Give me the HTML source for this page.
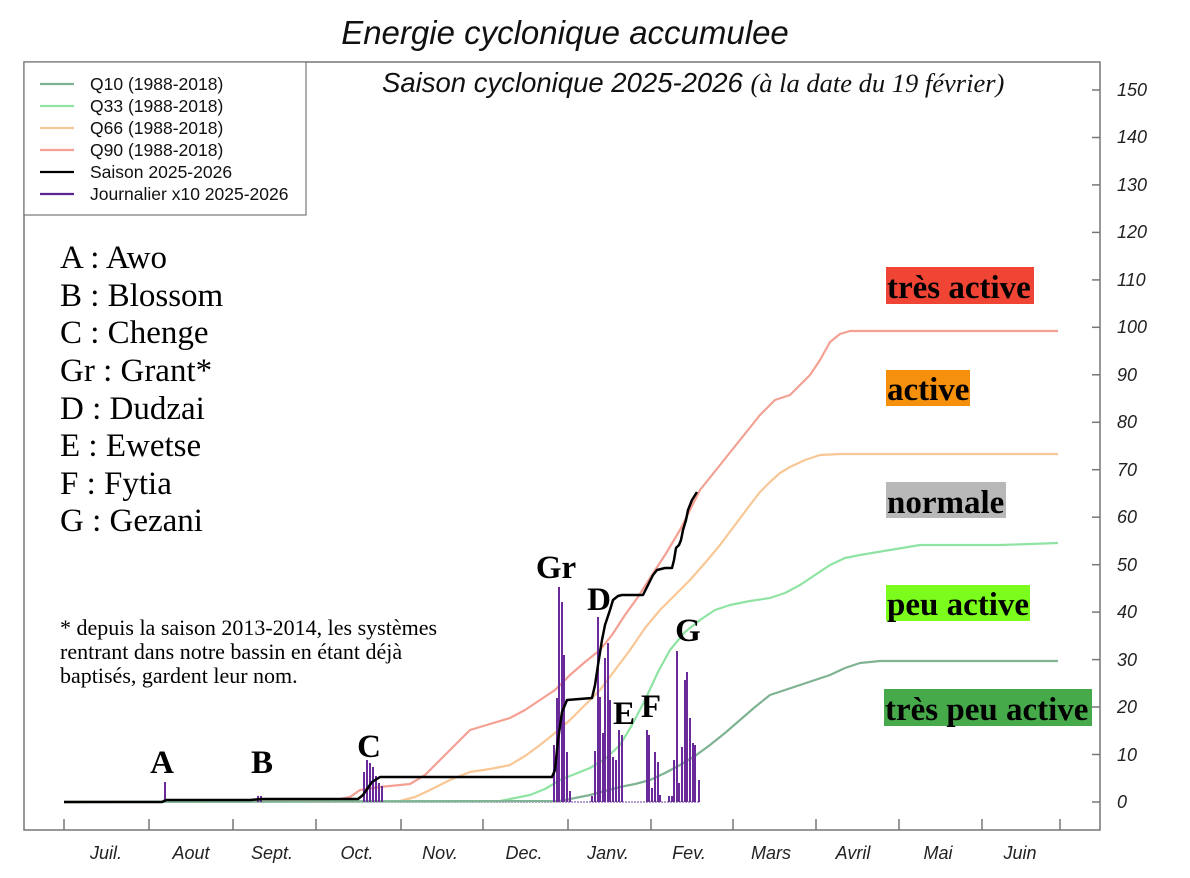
<!DOCTYPE html>
<html><head><meta charset="utf-8"><style>
body{margin:0;background:#fff}
svg{display:block}
.ax{font-family:"Liberation Sans",sans-serif;font-style:italic;font-size:18px;fill:#222}
.lg{font-family:"Liberation Sans",sans-serif;font-size:17.5px;fill:#111}
.sv{font-family:"Liberation Serif",serif}
</style></head><body>
<svg width="1190" height="878" viewBox="0 0 1190 878">
<rect width="1190" height="878" fill="#fff"/>
<text x="565" y="44" text-anchor="middle" font-family="Liberation Sans,sans-serif" font-style="italic" font-size="33" fill="#111">Energie cyclonique accumulee</text>
<text x="382" y="92" font-family="Liberation Sans,sans-serif" font-style="italic" font-size="27.5" fill="#111">Saison cyclonique 2025-2026 <tspan class="sv" font-size="26.5">(à la date du 19 février)</tspan></text>
<path d="M24,62 H1100 V830 H24 Z" fill="none" stroke="#777" stroke-width="1.5"/>
<g stroke="#777" stroke-width="1.5">
<line x1="1092" y1="802" x2="1100" y2="802"/><line x1="1092" y1="754.5" x2="1100" y2="754.5"/><line x1="1092" y1="707" x2="1100" y2="707"/><line x1="1092" y1="659.6" x2="1100" y2="659.6"/><line x1="1092" y1="612.1" x2="1100" y2="612.1"/><line x1="1092" y1="564.7" x2="1100" y2="564.7"/><line x1="1092" y1="517.2" x2="1100" y2="517.2"/><line x1="1092" y1="469.7" x2="1100" y2="469.7"/><line x1="1092" y1="422.3" x2="1100" y2="422.3"/><line x1="1092" y1="374.8" x2="1100" y2="374.8"/><line x1="1092" y1="327.3" x2="1100" y2="327.3"/><line x1="1092" y1="279.9" x2="1100" y2="279.9"/><line x1="1092" y1="232.4" x2="1100" y2="232.4"/><line x1="1092" y1="184.9" x2="1100" y2="184.9"/><line x1="1092" y1="137.5" x2="1100" y2="137.5"/><line x1="1092" y1="90" x2="1100" y2="90"/>
</g>
<g class="ax">
<text x="1117" y="808">0</text><text x="1117" y="761">10</text><text x="1117" y="713">20</text><text x="1117" y="666">30</text><text x="1117" y="618">40</text><text x="1117" y="571">50</text><text x="1117" y="523">60</text><text x="1117" y="476">70</text><text x="1117" y="428">80</text><text x="1117" y="381">90</text><text x="1117" y="333">100</text><text x="1117" y="286">110</text><text x="1117" y="238">120</text><text x="1117" y="191">130</text><text x="1117" y="143">140</text><text x="1117" y="96">150</text>
</g>
<g stroke="#777" stroke-width="1.5">
<line x1="64" y1="819" x2="64" y2="830"/><line x1="149" y1="819" x2="149" y2="830"/><line x1="233" y1="819" x2="233" y2="830"/><line x1="316" y1="819" x2="316" y2="830"/><line x1="401" y1="819" x2="401" y2="830"/><line x1="483" y1="819" x2="483" y2="830"/><line x1="568" y1="819" x2="568" y2="830"/><line x1="651" y1="819" x2="651" y2="830"/><line x1="733" y1="819" x2="733" y2="830"/><line x1="816" y1="819" x2="816" y2="830"/><line x1="899" y1="819" x2="899" y2="830"/><line x1="982" y1="819" x2="982" y2="830"/><line x1="1060" y1="819" x2="1060" y2="830"/>
</g>
<g class="ax" text-anchor="middle">
<text x="106" y="859">Juil.</text><text x="191" y="859">Aout</text><text x="272" y="859">Sept.</text><text x="357" y="859">Oct.</text><text x="440" y="859">Nov.</text><text x="524" y="859">Dec.</text><text x="608" y="859">Janv.</text><text x="689" y="859">Fev.</text><text x="771" y="859">Mars</text><text x="853" y="859">Avril</text><text x="938" y="859">Mai</text><text x="1020" y="859">Juin</text>
</g>
<line x1="64" y1="802" x2="700" y2="802" stroke="#9a7fc0" stroke-width="1.5" stroke-dasharray="2,1"/>
<g fill="none" stroke-width="2.2" stroke-linejoin="round">
<polyline stroke="#f4a093" points="64,802 330,801 350,797 360,790 380,787 410,784 425,775 440,760 455,745 470,730 490,724 510,718 525,710 540,700 555,690 570,675 585,662 600,650 612,635 625,615 638,597 650,578 665,555 680,530 690,510 700,490 720,465 740,440 760,415 775,400 790,395 800,385 810,375 820,360 830,342 840,334 850,331 1058,331"/>
<polyline stroke="#f8c795" points="64,802 400,801 415,797 430,790 450,780 470,772 490,769 510,765 525,756 540,745 555,733 570,720 585,705 600,690 615,670 630,650 645,628 660,610 675,595 690,580 705,563 720,545 735,525 750,505 760,492 770,482 780,473 790,467 805,460 820,455 840,454 860,454 1058,454"/>
<polyline stroke="#8fe3a3" points="64,802 500,801 515,798 530,795 545,789 560,780 575,774 590,768 605,759 620,745 632,725 645,700 658,672 670,650 685,632 700,620 715,610 730,605 750,601 770,598 785,593 800,585 815,575 830,565 845,558 860,555 890,550 920,545 1000,545 1030,544 1058,543"/>
<polyline stroke="#7fb393" points="64,802 560,801 575,798 590,795 605,791 620,787 635,784 650,780 665,773 680,765 695,756 710,745 725,733 740,720 755,707 770,695 785,690 800,685 815,680 830,675 845,668 860,663 880,661 900,661 1058,661"/>
</g>
<g stroke="#6a2a9a" stroke-width="2">
<line x1="165" y1="802" x2="165" y2="782"/>
<line x1="258" y1="802" x2="258" y2="796"/><line x1="261" y1="802" x2="261" y2="796"/>
<line x1="364" y1="802" x2="364" y2="772"/><line x1="367" y1="802" x2="367" y2="760"/><line x1="370" y1="802" x2="370" y2="763"/><line x1="373" y1="802" x2="373" y2="767"/><line x1="376" y1="802" x2="376" y2="776"/><line x1="379" y1="802" x2="379" y2="783"/><line x1="382" y1="802" x2="382" y2="786"/>
<line x1="554" y1="802" x2="554" y2="745"/><line x1="557" y1="802" x2="557" y2="698"/><line x1="559" y1="802" x2="559" y2="587"/><line x1="562" y1="802" x2="562" y2="602"/><line x1="564" y1="802" x2="564" y2="655"/><line x1="567" y1="802" x2="567" y2="752"/><line x1="570" y1="802" x2="570" y2="791"/>
<line x1="592" y1="802" x2="592" y2="796"/><line x1="595" y1="802" x2="595" y2="751"/><line x1="598" y1="802" x2="598" y2="617"/><line x1="600" y1="802" x2="600" y2="697"/><line x1="603" y1="802" x2="603" y2="733"/><line x1="605" y1="802" x2="605" y2="658"/><line x1="608" y1="802" x2="608" y2="643"/><line x1="610" y1="802" x2="610" y2="700"/><line x1="613" y1="802" x2="613" y2="757"/><line x1="616" y1="802" x2="616" y2="760"/><line x1="619" y1="802" x2="619" y2="730"/><line x1="622" y1="802" x2="622" y2="735"/>
<line x1="647" y1="802" x2="647" y2="730"/><line x1="649" y1="802" x2="649" y2="735"/><line x1="652" y1="802" x2="652" y2="788"/><line x1="655" y1="802" x2="655" y2="752"/><line x1="658" y1="802" x2="658" y2="762"/><line x1="660" y1="802" x2="660" y2="795"/>
<line x1="669" y1="802" x2="669" y2="796"/><line x1="672" y1="802" x2="672" y2="796"/><line x1="674" y1="802" x2="674" y2="760"/><line x1="677" y1="802" x2="677" y2="651"/><line x1="679" y1="802" x2="679" y2="783"/><line x1="682" y1="802" x2="682" y2="747"/><line x1="685" y1="802" x2="685" y2="680"/><line x1="687" y1="802" x2="687" y2="672"/><line x1="690" y1="802" x2="690" y2="718"/><line x1="693" y1="802" x2="693" y2="743"/><line x1="695" y1="802" x2="695" y2="745"/><line x1="699" y1="802" x2="699" y2="780"/>
</g>
<polyline fill="none" stroke="#000" stroke-width="2.5" stroke-linejoin="round" points="64,802 162,802 166,800 250,800 262,799 358,799 363,795 372,782 380,777 552,777 555,770 558,740 562,712 567,700 592,698 595,685 598,665 602,640 605,625 610,610 613,600 618,596 622,595 643,595 648,585 653,575 657,570 665,568 672,568 674,560 676,548 679,545 681,540 683,530 686,520 688,510 692,500 697,492"/>
<g font-family="Liberation Serif,serif" font-weight="bold" font-size="33" fill="#000" text-anchor="middle">
<text x="162" y="773">A</text><text x="262" y="773">B</text><text x="369" y="757">C</text><text x="556" y="578">Gr</text><text x="599" y="610">D</text><text x="624" y="724">E</text><text x="651" y="717">F</text><text x="688" y="641">G</text>
</g>
<rect x="24" y="62" width="282" height="153" fill="#fff" stroke="#777" stroke-width="1.2"/>
<g stroke-width="2.2">
<line x1="40" y1="84" x2="74" y2="84" stroke="#7fb393"/>
<line x1="40" y1="106" x2="74" y2="106" stroke="#8fe3a3"/>
<line x1="40" y1="128" x2="74" y2="128" stroke="#f8c795"/>
<line x1="40" y1="150" x2="74" y2="150" stroke="#f4a093"/>
<line x1="40" y1="172" x2="74" y2="172" stroke="#000"/>
<line x1="40" y1="194" x2="74" y2="194" stroke="#5a2590"/>
</g>
<g class="lg">
<text x="90" y="90">Q10 (1988-2018)</text><text x="90" y="112">Q33 (1988-2018)</text><text x="90" y="134">Q66 (1988-2018)</text><text x="90" y="156">Q90 (1988-2018)</text><text x="90" y="178">Saison 2025-2026</text><text x="90" y="200">Journalier x10 2025-2026</text>
</g>
<g font-family="Liberation Serif,serif" font-size="33" fill="#000">
<text x="60" y="268">A : Awo</text><text x="60" y="306">B : Blossom</text><text x="60" y="343">C : Chenge</text><text x="60" y="381">Gr : Grant*</text><text x="60" y="419">D : Dudzai</text><text x="60" y="456">E : Ewetse</text><text x="60" y="494">F : Fytia</text><text x="60" y="531">G : Gezani</text>
</g>
<g font-family="Liberation Serif,serif" font-size="22" fill="#000">
<text x="60" y="635">* depuis la saison 2013-2014, les systèmes</text><text x="60" y="659">rentrant dans notre bassin en étant déjà</text><text x="60" y="683">baptisés, gardent leur nom.</text>
</g>
<rect x="886" y="267" width="148" height="37" fill="#f04434"/>
<rect x="886" y="370" width="84" height="36" fill="#f5900d"/>
<rect x="886" y="482" width="120" height="36" fill="#b8b8b8"/>
<rect x="886" y="585" width="144" height="36" fill="#7cfc1c"/>
<rect x="884" y="689" width="208" height="37" fill="#46aa4a"/>
<g font-family="Liberation Serif,serif" font-weight="bold" font-size="33" fill="#000">
<text x="887" y="298">très active</text><text x="887" y="400">active</text><text x="887" y="513">normale</text><text x="887" y="615">peu active</text><text x="885" y="720">très peu active</text>
</g>
</svg>
</body></html>
